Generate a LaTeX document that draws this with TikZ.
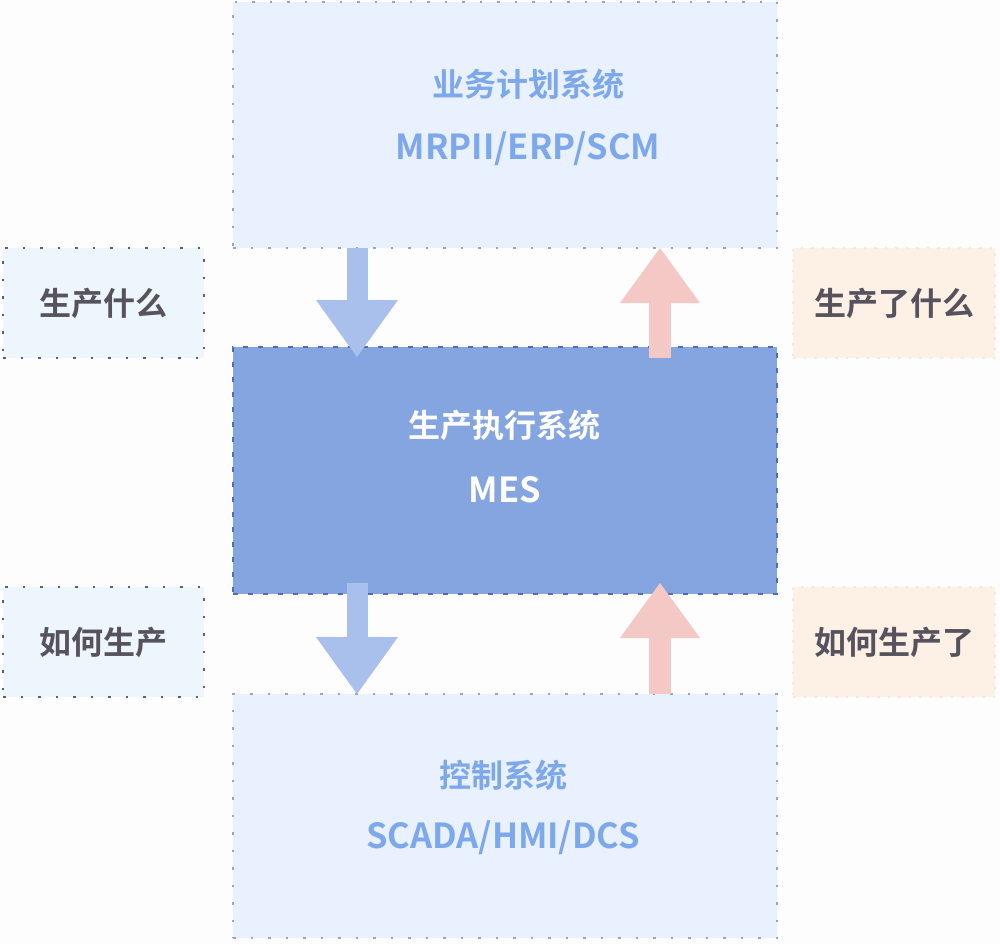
\documentclass[tikz,border=0pt]{standalone}
\usepackage{fontspec}
\newfontfamily\cjk{Noto Sans CJK SC}[BoldFont={Noto Sans CJK SC Bold}]
\usetikzlibrary{arrows.meta,calc}
\definecolor{bgc}{HTML}{FDFDFE}
\definecolor{sysfill}{HTML}{E8F1FD}
\definecolor{sysborder}{HTML}{9AA6B8}
\definecolor{systext}{HTML}{7EA8EC}
\definecolor{mesfill}{HTML}{84A5E0}
\definecolor{mesborder}{HTML}{4F6FB5}
\definecolor{qfill}{HTML}{EDF5FD}
\definecolor{qborder}{HTML}{55627A}
\definecolor{afill}{HTML}{FDF0E5}
\definecolor{aborder}{HTML}{F5E8DC}
\definecolor{qtext}{HTML}{57535E}
\definecolor{downc}{HTML}{A9C0EC}
\definecolor{upc}{HTML}{F4C8C4}
\begin{document}
\begin{tikzpicture}[x=1pt,y=-1pt,
  every node/.style={font=\cjk\bfseries},
  panel/.style={rectangle,anchor=north west,inner sep=0pt,outer sep=0pt},
  sysbox/.style={panel,minimum width=544pt,minimum height=246pt,fill=sysfill,draw=sysborder,line width=1.3pt,dash pattern=on 2.5pt off 15pt},
  mesbox/.style={panel,minimum width=544pt,minimum height=247pt,fill=mesfill,draw=mesborder,line width=1.3pt,dash pattern=on 5pt off 10pt},
  qbox/.style={panel,minimum width=201pt,minimum height=110pt,fill=qfill,draw=qborder,line width=1.4pt,dash pattern=on 2.5pt off 15pt},
  abox/.style={panel,minimum width=202pt,minimum height=110pt,fill=afill,draw=aborder,line width=1.3pt,dash pattern=on 2.5pt off 8pt},
  cjktitle/.style={text=systext,font=\cjk\bfseries\fontsize{32}{32}\selectfont},
  lattitle/.style={text=systext,font=\cjk\bfseries\fontsize{34.5}{34.5}\selectfont},
  qlabel/.style={text=qtext,font=\cjk\bfseries\fontsize{32}{32}\selectfont},
  downarr/.style={draw=downc,line width=21pt,-{Triangle[width=82pt,length=57pt,line width=0pt 0]}},
  uparr/.style={draw=upc,line width=22pt,-{Triangle[width=80pt,length=55pt,line width=0pt 0]}}]
\useasboundingbox[fill=bgc] (0,0) rectangle (1000,944);
% boxes
\node[sysbox] (top) at (233,2) {};
\node[mesbox] (mes) at (233,347) {};
\node[sysbox,minimum height=244pt] (bot) at (233,694) {};
\node[qbox] (q1) at (3,248) {};
\node[qbox] (q2) at (3,587) {};
\node[abox] (a1) at (793,248) {};
\node[abox] (a2) at (793,587) {};
% texts
\node[cjktitle] (topt1) at (528,84) {业务计划系统};
\node[lattitle] (topt2) at (528,149) {MRPII/ERP/SCM};
\node[cjktitle,text=white] (mest1) at (504,425) {生产执行系统};
\node[lattitle,text=white] (mest2) at (505,490) {MES};
\node[cjktitle] (bott1) at (503,775) {控制系统};
\node[lattitle] (bott2) at (503,838) {SCADA/HMI/DCS};
\node[qlabel] at (q1.center) {生产什么};
\node[qlabel] at (q2.center) {如何生产};
\node[qlabel] at (a1.center) {生产了什么};
\node[qlabel] at (a2.center) {如何生产了};
% arrows
\coordinate (d1s) at ($(top.south west)+(124,0)$);
\coordinate (d1e) at ($(mes.north west)+(124,10)$);
\coordinate (d2s) at ($(mes.south west)+(124,-11)$);
\coordinate (d2e) at ($(bot.north west)+(124,0)$);
\coordinate (u1s) at ($(mes.north west)+(427,11)$);
\coordinate (u1e) at ($(top.south west)+(427,0)$);
\coordinate (u2s) at ($(bot.north west)+(427,0)$);
\coordinate (u2e) at ($(mes.south west)+(427,-11)$);
\draw[downarr] (d1s) -- (d1e);
\draw[downarr] (d2s) -- (d2e);
\draw[uparr] (u1s) -- (u1e);
\draw[uparr] (u2s) -- (u2e);
\end{tikzpicture}
\end{document}
